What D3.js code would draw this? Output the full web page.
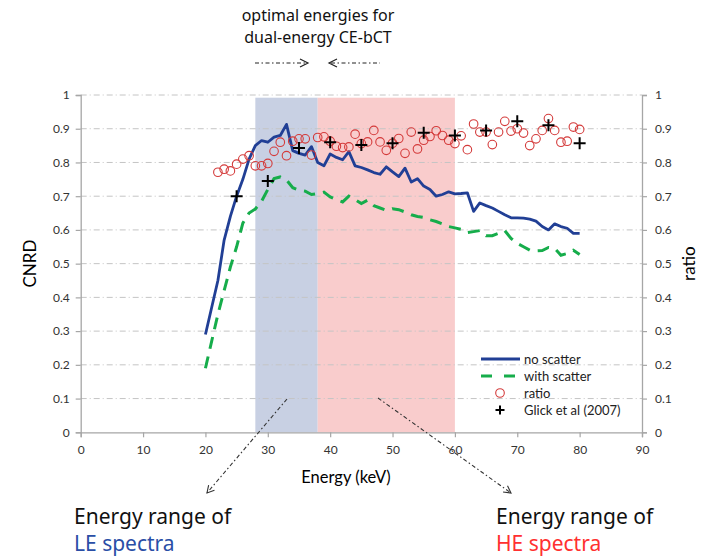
<!DOCTYPE html>
<html><head><meta charset="utf-8">
<script src="https://cdn.jsdelivr.net/npm/d3@7"></script>
<style>
html,body{margin:0;padding:0;background:#fff;}
svg{display:block;}
</style></head>
<body>
<svg id="chart" width="702" height="556"></svg>
<script>
// ---- data ----
const energies = d3.range(20, 81); // keV, 20..80
const noScatter = [0.29,0.37,0.45,0.57,0.64,0.70,0.75,0.81,0.85,0.865,
  0.86,0.875,0.88,0.913,0.835,0.827,0.822,0.847,0.80,0.79,
  0.825,0.815,0.808,0.832,0.79,0.785,0.778,0.77,0.765,0.787,
  0.772,0.758,0.783,0.742,0.752,0.73,0.72,0.70,0.705,0.713,
  0.707,0.708,0.71,0.655,0.68,0.672,0.665,0.655,0.645,0.636,
  0.636,0.635,0.632,0.626,0.61,0.60,0.618,0.61,0.605,0.59,0.59];
const withScatter = [0.19,0.27,0.35,0.42,0.49,0.55,0.62,0.65,0.662,0.685,
  0.72,0.752,0.757,0.748,0.725,0.718,0.715,0.705,0.708,0.712,
  0.698,0.69,0.683,0.70,0.69,0.678,0.688,0.672,0.665,0.658,
  0.663,0.66,0.653,0.645,0.64,0.637,0.63,0.625,0.618,0.61,
  0.606,0.602,0.592,0.595,0.598,0.583,0.583,0.59,0.598,0.575,
  0.56,0.55,0.54,0.538,0.539,0.548,0.545,0.525,0.53,0.54,0.527];
const ratioEnergies = d3.range(22, 81);
const ratio = [0.771,0.78,0.775,0.795,0.81,0.82,0.79,0.79,0.797,0.833,
  0.86,0.82,0.863,0.87,0.87,0.822,0.874,0.876,0.863,0.848,
  0.844,0.846,0.884,0.856,0.861,0.895,0.861,0.836,0.857,0.871,
  0.827,0.89,0.84,0.866,0.877,0.894,0.88,0.866,0.856,0.879,
  0.838,0.914,0.89,0.89,0.853,0.89,0.922,0.893,0.9,0.887,
  0.85,0.87,0.895,0.93,0.895,0.86,0.863,0.905,0.898];
const glickEnergies = [25,30,35,40,45,50,55,60,65,70,75,80];
const glick = [0.70,0.745,0.843,0.86,0.852,0.857,0.888,0.88,0.895,0.922,0.91,0.857];
const xTicks = [0,10,20,30,40,50,60,70,80,90];
const yTicks = [0,0.1,0.2,0.3,0.4,0.5,0.6,0.7,0.8,0.9,1];
const leBand = [28, 38];
const heBand = [38, 60];
const legendLabels = ["no scatter","with scatter","ratio","Glick et al (2007)"];

// ---- layout ----
const svg = d3.select("#chart");
const x = d3.scaleLinear().domain([0, 90]).range([80.7, 642]);
const y = d3.scaleLinear().domain([0, 1]).range([432.3, 95]);
const yR = d3.scaleLinear().domain([0, 1]).range([432.3, 95]);
const tickFont = "Lato, 'Open Sans', sans-serif";
const annFont = "'Noto Sans', 'Open Sans', sans-serif";

// bands
svg.append("rect").attr("x", x(leBand[0])).attr("width", x(leBand[1]) - x(leBand[0]))
  .attr("y", y(0.992)).attr("height", y(0) - y(0.992)).attr("fill", "#c8d0e3");
svg.append("rect").attr("x", x(heBand[0])).attr("width", x(heBand[1]) - x(heBand[0]))
  .attr("y", y(0.992)).attr("height", y(0) - y(0.992)).attr("fill", "#f9cccc");

// gridlines
svg.append("g").selectAll("line").data(yTicks.filter(d => d > 0)).join("line")
  .attr("x1", x(0)).attr("x2", x(90)).attr("y1", d => y(d)).attr("y2", d => y(d))
  .attr("stroke", "#c4c4c4").attr("stroke-width", 1).attr("stroke-dasharray", "6,3,1,3");

// axes
const axL = svg.append("g").attr("transform", `translate(${x(0)},0)`)
  .call(d3.axisLeft(y).tickValues(yTicks).tickFormat(d3.format("")).tickSize(5).tickPadding(6));
const axR = svg.append("g").attr("transform", `translate(${x(90)},0)`)
  .call(d3.axisRight(yR).tickValues(yTicks).tickFormat(d3.format("")).tickSize(5).tickPadding(8));
const axB = svg.append("g").attr("transform", `translate(0,${y(0)})`)
  .call(d3.axisBottom(x).tickValues(xTicks).tickSize(5).tickPadding(8));
[axL, axR, axB].forEach(g => {
  g.selectAll(".domain").attr("stroke", "#a6a6a6").attr("stroke-width", 1.3);
  g.selectAll(".tick line").attr("stroke", "#a6a6a6").attr("stroke-width", 1.2);
  g.selectAll("text").attr("font-family", tickFont).attr("font-size", 12).attr("fill", "#333");
});

// lines
const lineGen = d3.line().x(d => x(d[0])).y(d => y(d[1]));
svg.append("path").datum(energies.map((e, i) => [e, noScatter[i]]))
  .attr("d", lineGen).attr("fill", "none").attr("stroke", "#213f95")
  .attr("stroke-width", 2.8).attr("stroke-linejoin", "round");
svg.append("path").datum(energies.map((e, i) => [e, withScatter[i]]))
  .attr("d", lineGen).attr("fill", "none").attr("stroke", "#16ad4b")
  .attr("stroke-width", 3).attr("stroke-dasharray", "12,8");

// ratio circles
svg.append("g").selectAll("circle").data(ratioEnergies.map((e, i) => [e, ratio[i]])).join("circle")
  .attr("cx", d => x(d[0])).attr("cy", d => yR(d[1])).attr("r", 4.3)
  .attr("fill", "none").attr("stroke", "#d43a3a").attr("stroke-width", 1.1);

// Glick crosses
const plus = (g, cx, cy, s) => g.append("path")
  .attr("d", `M${cx - s},${cy}H${cx + s}M${cx},${cy - s}V${cy + s}`)
  .attr("stroke", "#000").attr("stroke-width", 2);
const gG = svg.append("g");
glickEnergies.forEach((e, i) => plus(gG, x(e), yR(glick[i]), 6));

// axis titles
svg.append("text").attr("transform", `translate(36,${(y(0) + y(1)) / 2}) rotate(-90)`)
  .attr("text-anchor", "middle").attr("font-family", tickFont).attr("font-size", 17)
  .attr("fill", "#000").text("CNRD");
svg.append("text").attr("transform", `translate(695,${(y(0) + y(1)) / 2}) rotate(-90)`)
  .attr("text-anchor", "middle").attr("font-family", tickFont).attr("font-size", 17)
  .attr("fill", "#000").text("ratio");
svg.append("text").attr("x", 346).attr("y", 483).attr("text-anchor", "middle")
  .attr("font-family", tickFont).attr("font-size", 16.5).attr("fill", "#000").text("Energy (keV)");

// legend
const lg = svg.append("g").attr("font-family", tickFont).attr("font-size", 13).attr("fill", "#222");
const ly = [359, 376, 393, 410];
lg.append("line").attr("x1", 481).attr("x2", 520).attr("y1", ly[0]).attr("y2", ly[0])
  .attr("stroke", "#213f95").attr("stroke-width", 2.8);
lg.append("line").attr("x1", 481).attr("x2", 520).attr("y1", ly[1]).attr("y2", ly[1])
  .attr("stroke", "#16ad4b").attr("stroke-width", 3).attr("stroke-dasharray", "11,12");
lg.append("circle").attr("cx", 500).attr("cy", ly[2]).attr("r", 4.3)
  .attr("fill", "none").attr("stroke", "#d43a3a").attr("stroke-width", 1.1);
plus(lg, 500, ly[3], 4.5);
legendLabels.forEach((t, i) => lg.append("text").attr("x", 524).attr("y", ly[i] + 4.5).text(t));

// top annotation
const ann = svg.append("g").attr("font-family", annFont).attr("font-size", 16).attr("fill", "#111")
  .attr("text-anchor", "middle");
ann.append("text").attr("x", 318).attr("y", 21).text("optimal energies for");
ann.append("text").attr("x", 318).attr("y", 43).text("dual-energy CE-bCT");
const dash = "4,2.5,1.5,2.5";
svg.append("line").attr("x1", 255).attr("x2", 306).attr("y1", 63).attr("y2", 63)
  .attr("stroke", "#222").attr("stroke-width", 1).attr("stroke-dasharray", dash);
svg.append("path").attr("d", "M300,59L308,63L300,67").attr("fill", "none").attr("stroke", "#222").attr("stroke-width", 1.2);
svg.append("line").attr("x1", 331).attr("x2", 380).attr("y1", 63).attr("y2", 63)
  .attr("stroke", "#222").attr("stroke-width", 1).attr("stroke-dasharray", dash);
svg.append("path").attr("d", "M337,59L329,63L337,67").attr("fill", "none").attr("stroke", "#222").attr("stroke-width", 1.2);

// pointer arrows from bands
function pointer(x1, y1, x2, y2) {
  svg.append("line").attr("x1", x1).attr("y1", y1).attr("x2", x2).attr("y2", y2)
    .attr("stroke", "#333").attr("stroke-width", 1.1).attr("stroke-dasharray", dash);
  const a = Math.atan2(y2 - y1, x2 - x1), L = 8, w = 0.5;
  const p1 = [x2 - L * Math.cos(a - w), y2 - L * Math.sin(a - w)];
  const p2 = [x2 - L * Math.cos(a + w), y2 - L * Math.sin(a + w)];
  svg.append("path").attr("d", `M${p1}L${x2},${y2}L${p2}`).attr("fill", "none")
    .attr("stroke", "#333").attr("stroke-width", 1.1);
}
pointer(287, 399, 207, 493);
pointer(378, 398, 511, 493);

// bottom labels
const bl = svg.append("g").attr("font-family", annFont).attr("font-size", 21);
bl.append("text").attr("x", 74).attr("y", 524).attr("fill", "#111").text("Energy range of");
bl.append("text").attr("x", 74).attr("y", 551).attr("fill", "#2a4ea6").text("LE spectra");
bl.append("text").attr("x", 496).attr("y", 524).attr("fill", "#111").text("Energy range of");
bl.append("text").attr("x", 496).attr("y", 551).attr("fill", "#ff3030").text("HE spectra");
</script>
</body></html>
